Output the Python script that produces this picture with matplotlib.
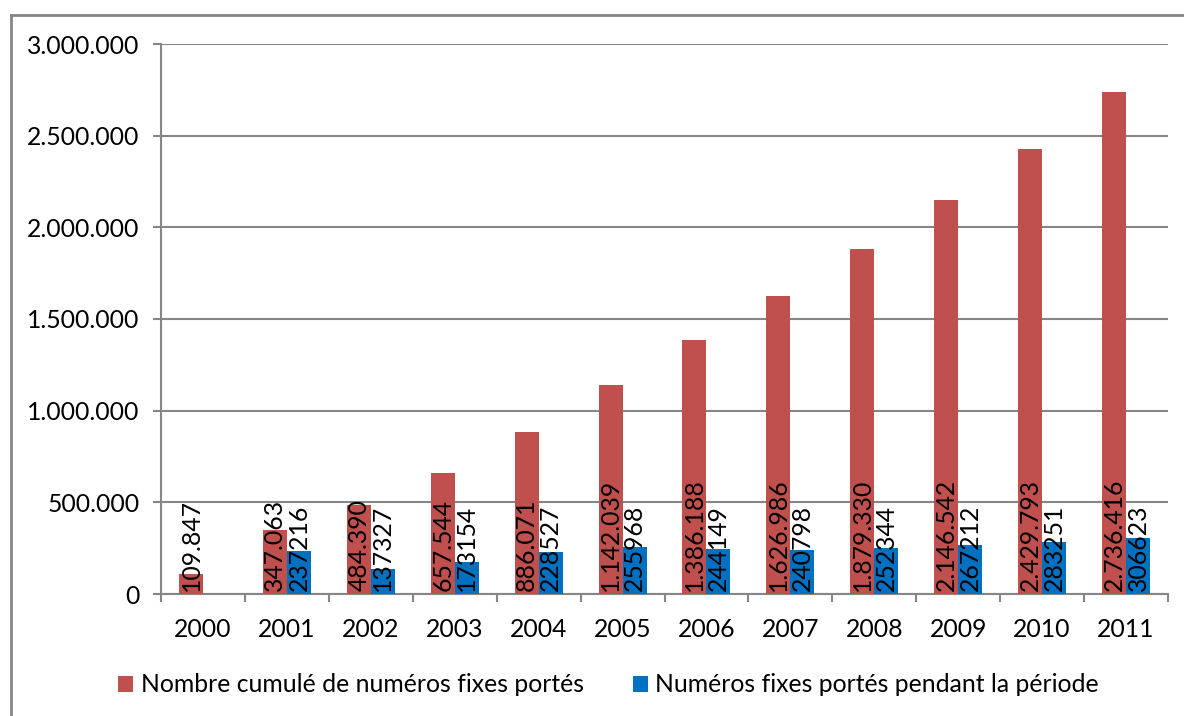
import numpy as np
import matplotlib
matplotlib.use("Agg")
import matplotlib.pyplot as plt
from matplotlib.patches import Patch
from matplotlib.lines import Line2D
from matplotlib.ticker import FuncFormatter

years = ["2000", "2001", "2002", "2003", "2004", "2005", "2006", "2007", "2008", "2009", "2010", "2011"]
cumul = [109847, 347063, 484390, 657544, 886071, 1142039, 1386188, 1626986, 1879330, 2146542, 2429793, 2736416]
periode = [np.nan, 237216, 137327, 173154, 228527, 255968, 244149, 240798, 252344, 267212, 283251, 306623]
series_names = ["Nombre cumulé de numéros fixes portés", "Numéros fixes portés pendant la période"]

RED = "#C0504D"
BLUE = "#0070C0"
GRID = "#868686"
FS = 17.8
plt.rcParams['font.family'] = ['Lato', 'DejaVu Sans']

def dotfmt(v):
    return f"{int(round(v)):,}".replace(",", ".")

fig = plt.figure(figsize=(11.84, 7.16), dpi=100)
ax = fig.add_axes([161/1184, 1-594/716, (1168-161)/1184, (594-44)/716])

x = np.arange(len(years))
w = 0.286
ax.bar(x - w/2, cumul, width=w, color=RED, zorder=3)
ax.bar(x + w/2, periode, width=w, color=BLUE, zorder=3)

for xi, v in zip(x, cumul):
    ax.annotate(dotfmt(v), (xi - w/2, 0), xytext=(0, 2), textcoords="offset points",
                rotation=90, ha="center", va="bottom", fontsize=FS, zorder=5)
for xi, v in zip(x, periode):
    if np.isnan(v):
        continue
    ax.annotate(f"{int(v)}", (xi + w/2, 0), xytext=(0, 2), textcoords="offset points",
                rotation=90, ha="center", va="bottom", fontsize=FS, zorder=5)

ax.set_xlim(-0.5, len(years) - 0.5)
ax.set_ylim(0, 3000000)
ax.set_yticks(np.arange(0, 3000001, 500000))
ax.yaxis.set_major_formatter(FuncFormatter(lambda v, p: dotfmt(v)))
ax.yaxis.grid(True, color=GRID, linewidth=1.5, zorder=0)
ax.set_axisbelow(True)

ax.set_xticks(x)
ax.set_xticklabels(years)
ax.set_xticks(np.arange(-0.5, len(years)), minor=True)
ax.tick_params(axis="x", which="major", length=0, pad=17, labelsize=FS)
ax.tick_params(axis="x", which="minor", length=5.5, width=1.5, color=GRID, direction="out")
ax.tick_params(axis="y", length=5.5, width=1.5, color=GRID, direction="out", labelsize=FS, pad=10)

for s in ["top", "right"]:
    ax.spines[s].set_visible(False)
for s in ["left", "bottom"]:
    ax.spines[s].set_color(GRID)
    ax.spines[s].set_linewidth(1.5)

handles = [Patch(facecolor=RED), Patch(facecolor=BLUE)]
fig.legend(handles, series_names, loc="center", bbox_to_anchor=(0.514, 1-685/716),
           ncol=2, frameon=False, fontsize=FS, handlelength=0.6, handleheight=0.6,
           handletextpad=0.3, columnspacing=2.0)

# outer chart frame
fig.add_artist(Line2D([11/1184, 11/1184], [0, 1-15/716], color=GRID, linewidth=2, transform=fig.transFigure))
fig.add_artist(Line2D([11/1184, 1], [1-15/716, 1-15/716], color=GRID, linewidth=2, transform=fig.transFigure))

fig.savefig("out.png", dpi=100, facecolor="white")
